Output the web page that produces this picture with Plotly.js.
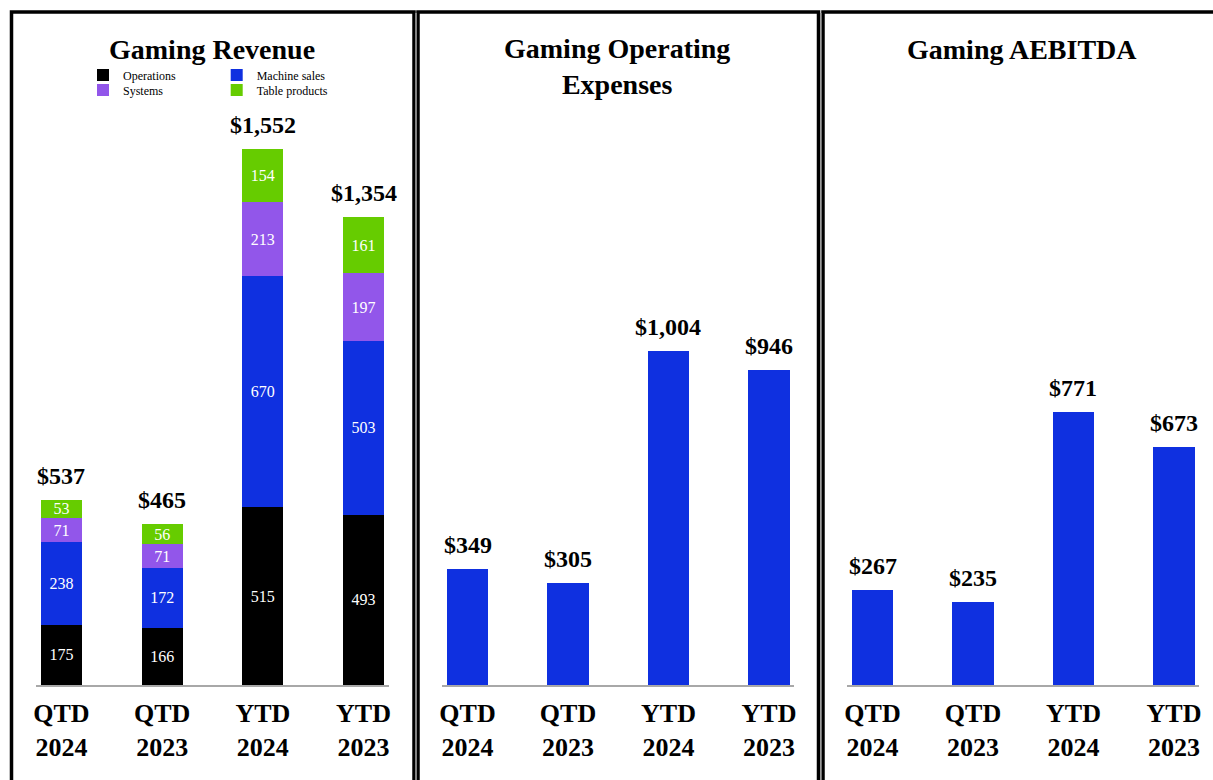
<!DOCTYPE html>
<html>
<head>
<meta charset="utf-8">
<script src="https://cdn.plot.ly/plotly-3.0.1.min.js"></script>
<style>
  html, body { margin: 0; padding: 0; background: #ffffff; }
  #chart { width: 1213px; height: 780px; }
</style>
</head>
<body>
<div id="chart"></div>
<script>
// ---- data ----
const categories = ['QTD<br>2024', 'QTD<br>2023', 'YTD<br>2024', 'YTD<br>2023'];
const operations = [175, 166, 515, 493];
const machineSales = [238, 172, 670, 503];
const systems = [71, 71, 213, 197];
const tableProducts = [53, 56, 154, 161];
const revenueTotals = [537, 465, 1552, 1354];
const opexValues = [349, 305, 1004, 946];
const aebitdaValues = [267, 235, 771, 673];
const panelTitles = ['Gaming Revenue', 'Gaming Operating<br>Expenses', 'Gaming AEBITDA'];

// ---- styling ----
const W = 1213, H = 780;
const px = v => v / W;
const py = v => 1 - v / H;
const SERIF = 'Liberation Serif, Times New Roman, serif';
const C_OPS = '#000000';
const C_MACH = '#0f30e0';
const C_SYS = '#9256ea';
const C_TAB = '#66cc00';
const BAR_W = 0.41;
const money = v => '$' + v.toLocaleString('en-US');

function segTrace(name, vals, color, legend) {
  return {
    type: 'bar', name: name, x: categories, y: vals,
    xaxis: 'x', yaxis: 'y', width: BAR_W,
    marker: { color: color, line: { width: 0 } },
    text: vals.map(String), textposition: 'inside', insidetextanchor: 'middle',
    textangle: 0, constraintext: 'none',
    insidetextfont: { family: SERIF, size: 16, color: '#ffffff' },
    legend: legend, showlegend: true, hoverinfo: 'skip'
  };
}

const traces = [
  segTrace('Operations', operations, C_OPS, 'legend'),
  segTrace('Machine sales', machineSales, C_MACH, 'legend2'),
  segTrace('Systems', systems, C_SYS, 'legend3'),
  segTrace('Table products', tableProducts, C_TAB, 'legend4'),
  {
    type: 'bar', x: categories, y: opexValues, xaxis: 'x2', yaxis: 'y2', width: BAR_W,
    marker: { color: C_MACH }, showlegend: false, hoverinfo: 'skip'
  },
  {
    type: 'bar', x: categories, y: aebitdaValues, xaxis: 'x3', yaxis: 'y3', width: BAR_W,
    marker: { color: C_MACH }, showlegend: false, hoverinfo: 'skip'
  }
];

const yBottom = py(685), yTop = py(100);
function xAx(d0, d1, anchor) {
  return {
    domain: [px(d0), px(d1)], range: [-0.25, 3.25], anchor: anchor,
    type: 'category', showline: true, linecolor: '#a8a8a8', linewidth: 2,
    ticks: '', showgrid: false, zeroline: false, fixedrange: true,
    ticklabelstandoff: 4,
    tickfont: { family: SERIF, size: 26, color: '#000000', weight: 'bold' }
  };
}
function yAx(max, anchor) {
  return {
    domain: [yBottom, yTop], range: [0, max], anchor: anchor,
    visible: false, showgrid: false, zeroline: false, fixedrange: true
  };
}

const annotations = [];
const totalsSets = [[revenueTotals, 'x', 'y'], [opexValues, 'x2', 'y2'], [aebitdaValues, 'x3', 'y3']];
totalsSets.forEach(([vals, xr, yr]) => {
  vals.forEach((v, i) => {
    annotations.push({
      x: categories[i], y: v, xref: xr, yref: yr, text: money(v), showarrow: false,
      yanchor: 'middle', yshift: 24,
      font: { family: SERIF, size: 24, color: '#000000', weight: 'bold' }
    });
  });
});
const titlePos = [[212, 49], [617, 66], [1022, 49]];
panelTitles.forEach((t, i) => {
  annotations.push({
    x: px(titlePos[i][0]), y: py(titlePos[i][1]), xref: 'paper', yref: 'paper',
    text: t, showarrow: false, xanchor: 'center', yanchor: 'middle',
    font: { family: SERIF, size: 28, color: '#000000', weight: 'bold' }
  });
});

const borderLine = { color: '#000000', width: 3.5 };
const shapes = [
  { type: 'rect', xref: 'paper', yref: 'paper', x0: px(11.5), x1: px(414), y0: -0.05, y1: py(12), line: borderLine },
  { type: 'rect', xref: 'paper', yref: 'paper', x0: px(418), x1: px(818.5), y0: -0.05, y1: py(12), line: borderLine },
  { type: 'rect', xref: 'paper', yref: 'paper', x0: px(823), x1: px(1240), y0: -0.05, y1: py(12), line: borderLine },
  { type: 'line', xref: 'paper', yref: 'paper', x0: px(416), x1: px(416), y0: -0.05, y1: py(13), line: { color: '#9a9a9a', width: 1.5 } },
  { type: 'line', xref: 'paper', yref: 'paper', x0: px(820.8), x1: px(820.8), y0: -0.05, y1: py(13), line: { color: '#9a9a9a', width: 1.5 } }
];

function leg(x, y) {
  return {
    x: px(x), y: py(y), xanchor: 'left', yanchor: 'middle',
    bgcolor: 'rgba(0,0,0,0)', borderwidth: 0,
    font: { family: SERIF, size: 12, color: '#000000' },
    itemclick: false, itemdoubleclick: false
  };
}

const layout = {
  width: W, height: H,
  margin: { l: 0, r: 0, t: 0, b: 0, pad: 0 },
  paper_bgcolor: '#ffffff', plot_bgcolor: 'rgba(0,0,0,0)',
  barmode: 'stack', hovermode: false,
  xaxis: xAx(36.3, 388.7, 'y'),
  yaxis: yAx(1694, 'x'),
  xaxis2: xAx(442.4, 794.1, 'y2'),
  yaxis2: yAx(1757, 'x2'),
  xaxis3: xAx(847.4, 1199.1, 'y3'),
  yaxis3: yAx(1652, 'x3'),
  legend: leg(83, 75),
  legend2: leg(216.7, 75),
  legend3: leg(83, 90),
  legend4: leg(216.7, 90),
  annotations: annotations,
  shapes: shapes
};

Plotly.newPlot('chart', traces, layout, { displayModeBar: false, staticPlot: true });
</script>
</body>
</html>
